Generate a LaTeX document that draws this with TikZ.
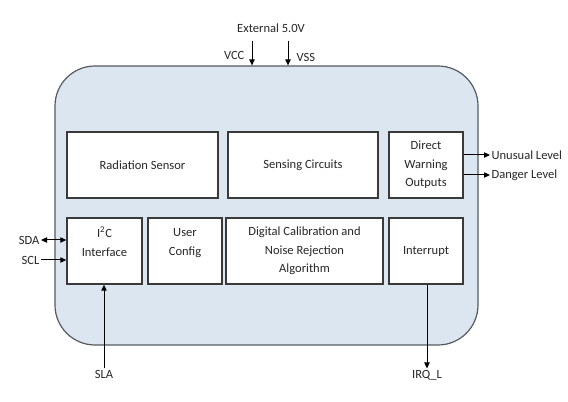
\documentclass[tikz,border=0pt]{standalone}
\usepackage{fontspec}
\setmainfont{Carlito}
\usetikzlibrary{arrows.meta}
\definecolor{chipfill}{HTML}{DCE6F0}
\definecolor{chipline}{HTML}{555A60}
\definecolor{boxline}{HTML}{3A3A3A}
\definecolor{txt}{HTML}{262626}
\begin{document}
\begin{tikzpicture}[x=0.75pt,y=-0.75pt,
  font=\fontsize{9.4}{13.9}\selectfont, text=txt,
  >={Triangle[length=4.5pt,width=4pt]},
  blk/.style={draw=boxline, line width=1pt, fill=white, align=center, inner sep=0pt, minimum height=49.5pt},
  conn/.style={draw=black, line width=0.75pt, ->},
  lbl/.style={inner sep=1pt}]
\useasboundingbox (0,0) rectangle (568,402);
\node[draw=chipline, fill=chipfill, line width=0.9pt, rounded corners=30pt,
  minimum width=317.25pt, minimum height=209.25pt, inner sep=0pt] (chip) at (266.5,205.5) {};
% blocks
\node[blk, minimum width=113.25pt] (rad) at (142.5,165) {Radiation Sensor};
\node[blk, minimum width=112.5pt] (sens) at (303,165) {Sensing Circuits};
\node[blk, minimum width=55.5pt] (dwo) at (426,165) {Direct\\Warning\\Outputs};
\node[blk, minimum width=56.25pt] (i2c) at (104.5,251) {I\textsuperscript{2}C\\Interface\\~};
\node[blk, minimum width=55.5pt] (ucfg) at (185,251) {User\\Config\\~};
\node[blk, minimum width=117.75pt] (dig) at (304.5,251) {Digital Calibration and\\Noise Rejection\\Algorithm};
\node[blk, minimum width=55.5pt] (irq) at (426,251) {Interrupt};
% labels
\node[lbl] (ext) at (271,28) {External 5.0V};
\node[lbl, anchor=east] (vcc) at (246,55) {VCC};
\node[lbl, anchor=west] (vss) at (295,57) {VSS};
\coordinate (vcctop) at (252,41);
\coordinate (vsstop) at (288,41);
\draw[conn] (vcctop) -- (vcctop |- chip.north);
\draw[conn] (vsstop) -- (vsstop |- chip.north);
\node[lbl, anchor=east] (sda) at (41,240) {SDA};
\node[lbl, anchor=east] (scl) at (41,260) {SCL};
\draw[conn, <->] (sda.east) -- (sda.east -| i2c.west);
\draw[conn] (scl.east) -- (scl.east -| i2c.west);
\node[lbl, anchor=west] (unu) at (490,155) {Unusual Level};
\node[lbl, anchor=west] (dng) at (490,175) {Danger Level};
\draw[conn] (unu.west -| dwo.east) -- (unu.west);
\draw[conn] (dng.west -| dwo.east) -- (dng.west);
\node[lbl] (sla) at (104,374) {SLA};
\draw[conn] (sla.north) -- (sla.north |- i2c.south);
\node[lbl] (irql) at (427,375) {IRQ\_L};
\draw[conn] (irql.north |- irq.south) -- (irql.north);
\end{tikzpicture}
\end{document}
